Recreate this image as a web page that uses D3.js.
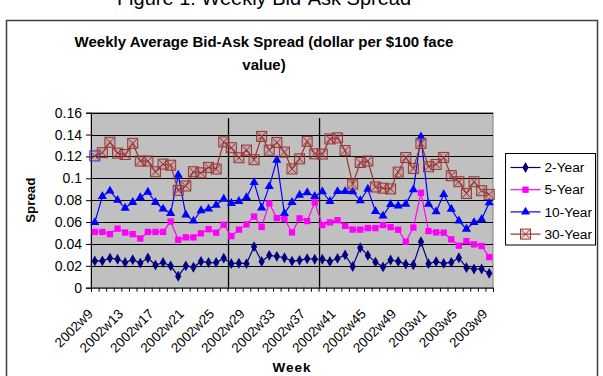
<!DOCTYPE html>
<html>
<head>
<meta charset="utf-8">
<script src="https://cdn.jsdelivr.net/npm/d3@7"></script>
<style>
  body { margin: 0; background: #fff; }
  svg { display: block; font-family: "Liberation Sans", Arial, sans-serif; }
</style>
</head>
<body>
<div id="chart"></div>
<script>
// weeks on the x axis (2002w9 .. 2003w9)
const weeks = ["2002w9","2002w10","2002w11","2002w12","2002w13","2002w14","2002w15","2002w16",
  "2002w17","2002w18","2002w19","2002w20","2002w21","2002w22","2002w23","2002w24","2002w25",
  "2002w26","2002w27","2002w28","2002w29","2002w30","2002w31","2002w32","2002w33","2002w34",
  "2002w35","2002w36","2002w37","2002w38","2002w39","2002w40","2002w41","2002w42","2002w43",
  "2002w44","2002w45","2002w46","2002w47","2002w48","2002w49","2002w50","2002w51","2002w52",
  "2003w1","2003w2","2003w3","2003w4","2003w5","2003w6","2003w7","2003w8","2003w9"];

// spreads
const twoYear = [0.0245,0.0245,0.027,0.026,0.023,0.0256,0.0225,0.0272,0.0207,0.023,0.020,0.0105,0.020,
  0.0187,0.024,0.023,0.023,0.027,0.022,0.0224,0.022,0.0375,0.024,0.0296,0.0287,0.0274,0.0243,0.025,
  0.0265,0.026,0.026,0.024,0.0268,0.030,0.0194,0.0366,0.0295,0.0234,0.019,0.0253,0.024,0.0215,0.021,
  0.042,0.022,0.0238,0.0222,0.0232,0.0274,0.0183,0.0171,0.0171,0.0131];
const fiveYear = [0.051,0.051,0.049,0.054,0.0505,0.049,0.045,0.051,0.051,0.051,0.0605,0.0438,0.046,
  0.046,0.0497,0.0535,0.0503,0.0576,0.0472,0.0531,0.0579,0.065,0.0555,0.0771,0.0637,0.063,0.0505,
  0.0634,0.0609,0.078,0.0573,0.0597,0.0617,0.0566,0.0531,0.0531,0.0545,0.0545,0.0573,0.0553,0.053,
  0.042,0.055,0.0868,0.0518,0.0506,0.0503,0.0442,0.0384,0.0426,0.0396,0.0381,0.028];
const tenYear = [0.0597,0.0835,0.0885,0.080,0.0728,0.078,0.0825,0.0875,0.078,0.072,0.068,0.103,0.0667,
  0.061,0.0705,0.072,0.0756,0.081,0.0771,0.079,0.0825,0.0962,0.073,0.0926,0.1167,0.0679,0.078,0.0847,
  0.087,0.0836,0.0878,0.079,0.088,0.088,0.0878,0.0797,0.0902,0.0698,0.0656,0.0762,0.0748,0.0764,
  0.0896,0.138,0.0765,0.0695,0.0853,0.0719,0.0612,0.0536,0.0597,0.0625,0.0777];
const thirtyYear = [0.1205,0.1234,0.133,0.123,0.1218,0.132,0.1158,0.1158,0.106,0.113,0.112,0.089,0.093,
  0.106,0.105,0.110,0.1085,0.1333,0.128,0.1188,0.1258,0.117,0.1383,0.1258,0.1328,0.124,0.1086,0.1178,
  0.1338,0.1224,0.1222,0.136,0.137,0.1254,0.0947,0.1145,0.1158,0.0921,0.091,0.0903,0.1057,0.119,
  0.109,0.1319,0.1106,0.1127,0.1191,0.1024,0.0969,0.0862,0.0969,0.0887,0.0853];

const seriesNames = ["2-Year", "5-Year", "10-Year", "30-Year"];
const yTicks = [0, 0.02, 0.04, 0.06, 0.08, 0.1, 0.12, 0.14, 0.16];
// vertical divider lines drawn before these weeks
const dividerWeeks = ["2002w27", "2002w39"];

const series = [
  {name: seriesNames[0], values: twoYear,    color: "#000080", marker: "diamond"},
  {name: seriesNames[1], values: fiveYear,   color: "#ff00ff", marker: "square"},
  {name: seriesNames[2], values: tenYear,    color: "#0000ff", marker: "triangle"},
  {name: seriesNames[3], values: thirtyYear, color: "#993333", marker: "xbox"}
];

const W = 603, H = 376;
const plot = {left: 91, right: 493, top: 112.7, bottom: 287.7};

const svg = d3.select("#chart").append("svg")
  .attr("width", W).attr("height", H);

// figure caption (partly cut at the top, as in the source)
svg.append("text")
  .attr("x", 264).attr("y", 5)
  .attr("text-anchor", "middle")
  .style("font-size", "20px")
  .text("Figure 1: Weekly Bid-Ask Spread");

// chart frame
svg.append("rect")
  .attr("x", 6.5).attr("y", 20.5)
  .attr("width", 591).attr("height", 400)
  .attr("fill", "#fff")
  .attr("stroke", "#404040").attr("stroke-width", 1.5);

// chart title, two lines
const title = svg.append("text")
  .attr("text-anchor", "middle")
  .style("font-size", "15px").style("font-weight", "bold");
title.append("tspan").attr("x", 264).attr("y", 47)
  .text("Weekly Average Bid-Ask Spread (dollar per $100 face");
title.append("tspan").attr("x", 264).attr("y", 70).text("value)");

const x = d3.scaleBand().domain(weeks).range([plot.left, plot.right]).padding(0);
const xc = d => x(d) + x.bandwidth() / 2;
const y = d3.scaleLinear().domain([0, 0.16]).range([plot.bottom, plot.top]);

// plot area
svg.append("rect")
  .attr("x", plot.left).attr("y", plot.top)
  .attr("width", plot.right - plot.left).attr("height", plot.bottom - plot.top)
  .attr("fill", "#c0c0c0")
  .attr("stroke", "#808080").attr("stroke-width", 1);

// gridlines
svg.append("g")
  .selectAll("line")
  .data(yTicks.filter(d => d > 0))
  .join("line")
  .attr("x1", plot.left).attr("x2", plot.right)
  .attr("y1", d => Math.round(y(d)) + 0.5).attr("y2", d => Math.round(y(d)) + 0.5)
  .attr("stroke", "#000").attr("stroke-width", 1);

// divider lines
svg.append("g")
  .selectAll("line")
  .data(dividerWeeks)
  .join("line")
  .attr("x1", d => x(d) + 1).attr("x2", d => x(d) + 1)
  .attr("y1", y(0.155)).attr("y2", plot.bottom)
  .attr("stroke", "#000").attr("stroke-width", 1.3);

// y axis
const yAxis = svg.append("g")
  .attr("transform", `translate(${plot.left},0)`)
  .call(d3.axisLeft(y).tickValues(yTicks).tickSize(5).tickPadding(4)
    .tickFormat(d => String(+d.toFixed(2))));
yAxis.select(".domain").attr("stroke", "#000");
yAxis.selectAll("text").style("font-size", "14px").attr("fill", "#000")
  .style("font-family", "'Liberation Sans', Arial, sans-serif");

// x axis: tick marks between categories
const xTickScale = d3.scaleLinear().domain([0, weeks.length]).range([plot.left, plot.right]);
const xAxis = svg.append("g")
  .attr("transform", `translate(0,${plot.bottom})`)
  .call(d3.axisBottom(xTickScale).tickValues(d3.range(0, weeks.length + 1))
    .tickSize(4).tickFormat(""));
xAxis.select(".domain").attr("stroke", "#000");

// rotated week labels, every fourth week
svg.append("g")
  .selectAll("text")
  .data(weeks.filter((d, i) => i % 4 === 0))
  .join("text")
  .attr("transform", d => `translate(${xc(d) - 1},${plot.bottom + 27}) rotate(-45)`)
  .attr("text-anchor", "end")
  .style("font-size", "13.5px")
  .text(d => d);

// axis titles
svg.append("text")
  .attr("x", 292).attr("y", 372)
  .attr("text-anchor", "middle")
  .style("font-size", "13.5px").style("font-weight", "bold")
  .style("letter-spacing", "1px")
  .text("Week");

svg.append("text")
  .attr("transform", `translate(35,${(plot.top + plot.bottom) / 2}) rotate(-90)`)
  .attr("text-anchor", "middle")
  .style("font-size", "13.3px").style("font-weight", "bold")
  .text("Spread");

// marker drawing
function drawMarker(g, type, color, stroke) {
  if (type === "diamond") {
    g.append("path").attr("d", d3.symbol(d3.symbolDiamond, 34)()).attr("fill", color);
  } else if (type === "square") {
    g.append("path").attr("d", d3.symbol(d3.symbolSquare, 40)()).attr("fill", color);
  } else if (type === "triangle") {
    g.append("path").attr("d", d3.symbol(d3.symbolTriangle, 36)()).attr("fill", color);
  } else {
    g.append("rect").attr("x", -5).attr("y", -5).attr("width", 10).attr("height", 10)
      .attr("fill", "rgba(190,90,90,0.18)").attr("stroke", stroke || color).attr("stroke-width", 1);
    g.append("path").attr("d", "M-4,-4L4,4M4,-4L-4,4").attr("stroke", color).attr("stroke-width", 1);
  }
}

const line = d3.line().x((d, i) => xc(weeks[i])).y(d => y(d));

series.forEach(s => {
  svg.append("path")
    .datum(s.values)
    .attr("fill", "none")
    .attr("stroke", s.color)
    .attr("stroke-width", 1.2)
    .attr("d", line);

  s.values.forEach((v, i) => {
    const g = svg.append("g").attr("transform", `translate(${xc(weeks[i])},${y(v)})`);
    // the first 30-year marker is outlined in blue in the source
    drawMarker(g, s.marker, s.color, (s.marker === "xbox" && i === 0) ? "#3333cc" : null);
  });
});

// legend
const legend = svg.append("g").attr("transform", "translate(505.5,153.5)");
legend.append("rect")
  .attr("width", 90).attr("height", 91.5)
  .attr("fill", "#fff").attr("stroke", "#000").attr("stroke-width", 1);

series.forEach((s, i) => {
  const row = legend.append("g").attr("transform", `translate(0,${14 + i * 22.2})`);
  row.append("line")
    .attr("x1", 5).attr("x2", 35)
    .attr("stroke", s.color).attr("stroke-width", 1.2);
  drawMarker(row.append("g").attr("transform", "translate(20,0)"), s.marker, s.color);
  row.append("text")
    .attr("x", 39).attr("dy", "0.35em")
    .style("font-size", "13.7px")
    .text(s.name);
});
</script>
</body>
</html>
